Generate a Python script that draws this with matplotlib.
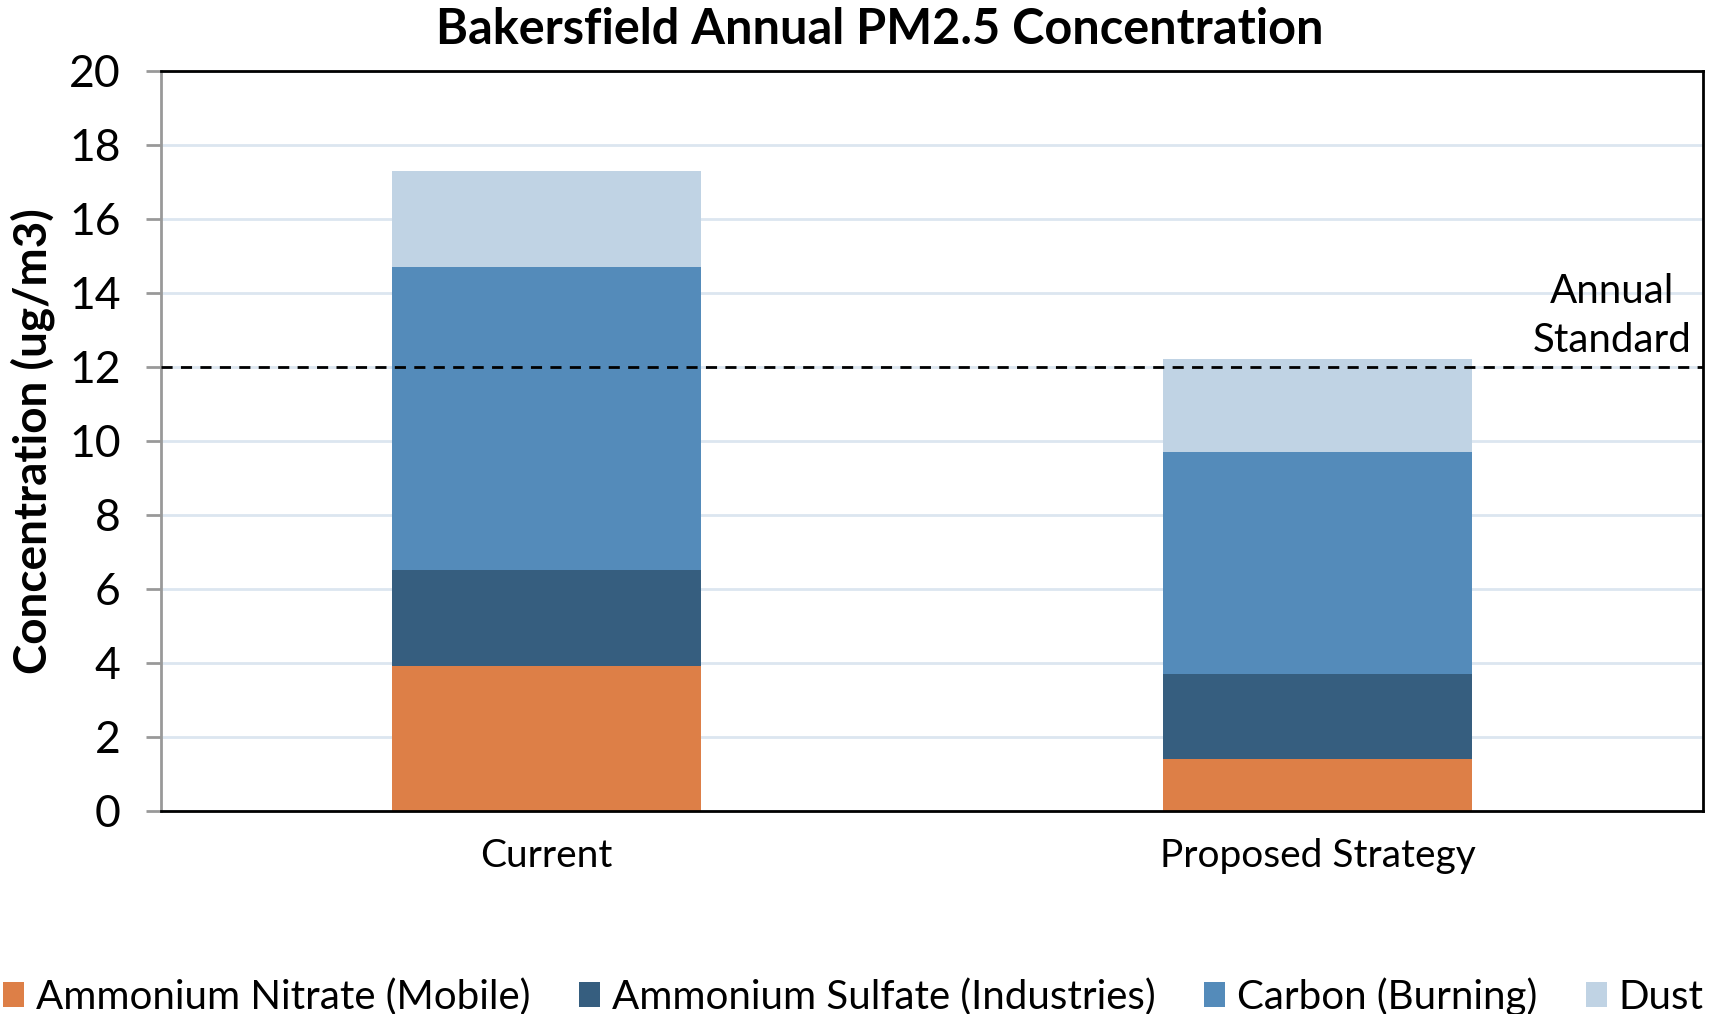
import matplotlib.pyplot as plt
import numpy as np

plt.rcParams['font.family'] = ['Lato', 'DejaVu Sans']

categories = ['Current', 'Proposed Strategy']
series_names = ['Ammonium Nitrate (Mobile)', 'Ammonium Sulfate (Industries)',
                'Carbon (Burning)', 'Dust']
nitrate = [3.9, 1.4]
sulfate = [2.6, 2.3]
carbon = [8.2, 6.0]
dust = [2.6, 2.5]
standard = 12
colors = ['#DD7F47', '#365E7F', '#548BBA', '#C0D3E4']

fig = plt.figure(figsize=(17.19, 10.14), dpi=100)
ax = fig.add_axes([0.0937, 0.2005, 0.8970, 0.7298])

x = np.arange(len(categories))
bottom = np.zeros(len(categories))
for name, vals, c in zip(series_names, [nitrate, sulfate, carbon, dust], colors):
    ax.bar(x, vals, width=0.4, bottom=bottom, color=c, label=name, zorder=2)
    bottom += np.array(vals)

ax.axhline(standard, color='black', linestyle=(0, (4, 3)), linewidth=2, zorder=3)
ax.text(0.941, 13.36, 'Annual\nStandard', transform=ax.get_yaxis_transform(),
        ha='center', va='center', fontsize=29, linespacing=1.4)

ax.set_xlim(-0.5, 1.5)
ax.set_ylim(0, 20)
ax.set_yticks(range(0, 21, 2))
ax.yaxis.grid(True, color='#DCE6F0', linewidth=2, zorder=0)
ax.set_axisbelow(True)
ax.set_xticks(x)
ax.set_xticklabels(categories)
ax.tick_params(axis='x', length=0, pad=20, labelsize=28)
ax.tick_params(axis='y', length=11, width=2, color='#999999', pad=18, labelsize=32)

for side in ['top', 'right', 'bottom']:
    ax.spines[side].set_color('black')
    ax.spines[side].set_linewidth(2)
ax.spines['left'].set_color('#999999')
ax.spines['left'].set_linewidth(2)

ax.set_ylabel('Concentration (ug/m3)', fontsize=33, fontweight='bold', labelpad=10)
fig.text(0.5115, 0.971, 'Bakersfield Annual PM2.5 Concentration', fontsize=35,
         fontweight='bold', ha='center', va='center')

fig.legend(loc='center', bbox_to_anchor=(0.4965, 0.0175), ncol=4, frameon=False,
           fontsize=29, handlelength=0.52, handleheight=0.6, handletextpad=0.3,
           columnspacing=1.2, borderpad=0, borderaxespad=0)

fig.savefig('out.png', dpi=100)
